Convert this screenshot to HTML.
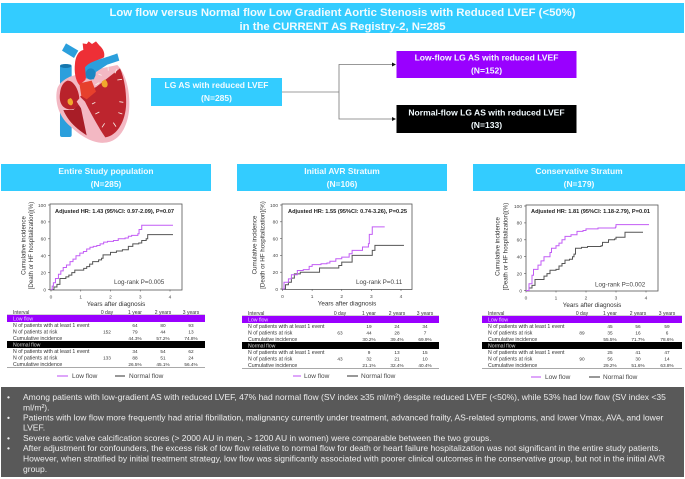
<!DOCTYPE html>
<html lang="en">
<head>
<meta charset="utf-8">
<title>Low flow versus Normal flow Low Gradient Aortic Stenosis</title>
<style>
html,body{margin:0;padding:0;background:#fff;width:685px;height:479px;overflow:hidden}
svg{display:block;font-family:"Liberation Sans",sans-serif;filter:blur(.3px)}
.ttl{font-weight:700;fill:#f2fbff;text-anchor:middle}
.ln{font-size:8.52px;fill:#ececec}
</style>
</head>
<body>
<svg id="root" width="685" height="479" viewBox="0 0 685 479" xmlns="http://www.w3.org/2000/svg">
<rect width="685" height="479" fill="#fff"/>

<rect x="1" y="3" width="683" height="30" fill="#33ccff"/>
<text x="342.5" y="15.8" class="ttl" font-size="11.35">Low flow versus Normal flow Low Gradient Aortic Stenosis with Reduced LVEF (&lt;50%)</text>
<text x="342.5" y="29.8" class="ttl" font-size="11.35">in the CURRENT AS Registry-2, N=285</text>

<g transform="translate(30,30) scale(0.3333)">
  <rect x="90" y="103" width="35" height="218" rx="6" fill="#2b9fdc"/>
  <ellipse cx="107" cy="108" rx="17" ry="6" fill="#1576ad"/>
  <path d="M96 62 L108 40 L145 62 L132 84 Z" fill="#2b9fdc"/>
  <path d="M82 175 C72 215 88 262 120 288 C155 322 195 342 225 338 C272 335 300 280 298 215 C297 165 282 125 262 105 L190 120 L120 140 C100 150 88 160 82 175 Z" fill="#f3b8c3"/>
  <path d="M90 190 C86 215 96 240 126 238 C142 236 148 225 148 205 C146 175 128 150 112 152 C98 158 92 172 90 190 Z" fill="#b9222b"/>
  <path d="M100 240 C112 270 138 296 170 316 L150 220 L130 240 Z" fill="#a81d27"/>
  <path d="M150 200 L200 170 L270 115 C286 150 290 200 288 230 C284 280 258 318 226 322 C210 300 182 250 165 215 Z" fill="#bd252e"/>
  <path d="M148 205 L222 325 L212 325 L140 215 Z" fill="#f3b8c3"/>
  <path d="M135 100 C138 72 150 62 160 60 L158 40 L170 42 L176 34 L186 42 L198 34 L208 46 C222 58 225 72 222 82 L180 100 L166 150 L148 165 C136 150 132 125 135 100 Z" fill="#ee2f36"/>
  <path d="M148 160 L185 152 L198 185 L170 208 L154 198 Z" fill="#e6402c"/>
  <path d="M165 112 C180 92 215 88 262 70 L268 92 L232 104 L198 126 L192 148 L168 145 Z" fill="#2b9fdc"/>
  <ellipse cx="182" cy="132" rx="15" ry="17" fill="#1c86c2"/>
  <path d="M225 148 C234 155 236 168 228 172 C218 174 212 164 216 154 Z" fill="#f0a92c"/>
  <path d="M122 204 C130 210 132 222 124 226 C115 226 110 216 114 208 Z" fill="#f0a92c"/>
  <path d="M234 110 L235 122 M260 118 L255 130 M205 132 L215 136 M262 150 L276 148 M196 165 L208 158 M268 215 L280 217 M186 222 L196 217 M265 248 L277 252 M196 252 L208 246 M250 278 L258 290 M216 292 L224 280" stroke="#f6f1e8" stroke-width="2.5" fill="none"/>
</g>

<path d="M282 92 H339" stroke="#bdbdbd" stroke-width="1.6" fill="none"/>
<path d="M392 64.5 H339 V119 H392" stroke="#777" stroke-width="0.8" fill="none"/>
<path d="M396 64.5 L392 62.5 V66.5 Z" fill="#111"/>
<path d="M396 119 L392 117 V121 Z" fill="#111"/>

<rect x="151" y="78" width="131" height="28" fill="#33ccff"/>
<text x="216.5" y="88" class="ttl" font-size="8.5">LG AS with reduced LVEF</text>
<text x="216.5" y="101" class="ttl" font-size="8.5">(N=285)</text>

<rect x="396.5" y="51" width="180" height="27" fill="#9900ff"/>
<text x="486.5" y="60.5" class="ttl" font-size="8.55">Low-flow LG AS with reduced LVEF</text>
<text x="486.5" y="73.5" class="ttl" font-size="8.55">(N=152)</text>

<rect x="396.5" y="105" width="180" height="28" fill="#000"/>
<text x="486.5" y="115.5" class="ttl" font-size="8.55">Normal-flow LG AS with reduced LVEF</text>
<text x="486.5" y="128" class="ttl" font-size="8.55">(N=133)</text>

<rect x="1" y="387" width="683" height="90" fill="#595959"/>
<g>
<text x="7" y="400" class="ln">•</text><text x="23" y="400" class="ln">Among patients with low-gradient AS with reduced LVEF, 47% had normal flow (SV index ≥35 ml/m²) despite reduced LVEF (&lt;50%), while 53% had low flow (SV index &lt;35</text>
<text x="23" y="410.5" class="ln">ml/m²).</text>
<text x="7" y="420.5" class="ln">•</text><text x="23" y="420.5" class="ln">Patients with low flow more frequently had atrial fibrillation, malignancy currently under treatment, advanced frailty, AS-related symptoms, and lower Vmax, AVA, and lower</text>
<text x="23" y="430.5" class="ln">LVEF.</text>
<text x="7" y="441" class="ln">•</text><text x="23" y="441" class="ln">Severe aortic valve calcification scores (&gt; 2000 AU in men, &gt; 1200 AU in women) were comparable between the two groups.</text>
<text x="7" y="451" class="ln">•</text><text x="23" y="451" class="ln">After adjustment for confounders, the excess risk of low flow relative to normal flow for death or heart failure hospitalization was not significant in the entire study patients.</text>
<text x="23" y="461.5" class="ln">However, when stratified by initial treatment strategy, low flow was significantly associated with poorer clinical outcomes in the conservative group, but not in the initial AVR</text>
<text x="23" y="472" class="ln">group.</text>
</g>
</svg>

<script>
const xTickLabels = [0, 1, 2, 3, 4];
const yTickLabels = [0, 20, 40, 60, 80, 100];
const intervalLabels = ['Interval', '0 day', '1 year', '2 years', '3 years'];

const entireLowYears = [0, .04, .08, .15, .25, .33, .41, .52, .64, .74, .84, .97, 1.09, 1.2, 1.31, 1.42, 1.54, 1.65, 1.77, 1.9, 2.1, 2.26, 2.49, 2.6, 2.71, 2.92, 2.96, 3.05, 4.1];
const entireLowValues = [0, 4, 8, 13, 18, 22, 26, 29, 33, 36, 40, 43, 45, 48, 50, 51, 52, 54, 56, 57, 58, 60, 61, 63, 64, 66, 71, 76, 76];
const entireNormalYears = [0, .1, .2, .3, .5, .6, .7, .8, 1.0, 1.1, 1.2, 1.3, 1.4, 1.55, 1.6, 1.7, 1.75, 2, 2.2, 2.4, 2.6, 2.75, 2.95, 3.05, 3.2, 3.25, 4.1];
const entireNormalValues = [0, 3, 6, 13, 15, 17, 20, 23, 23, 25, 27, 30, 33, 33, 35, 37, 41, 44, 45.5, 47, 51, 54, 55, 58, 60, 65, 65];

const initialLowYears = [0, .05, .2, .3, .45, .5, .7, .9, 1, 1.3, 1.5, 1.6, 1.8, 2, 2.2, 2.25, 2.35, 2.6, 2.7, 2.9, 2.93, 3.03, 3.45];
const initialLowValues = [0, 8, 12, 17, 17, 22, 23, 27, 29, 30, 31, 33, 36, 38, 38, 42, 46, 46, 50, 54, 65, 74, 74];
const initialNormalYears = [0, .1, .2, .3, .4, .6, 1.18, 1.25, 1.8, 1.9, 2.0, 2.3, 2.35, 3.0, 3.03, 3.12, 4.1];
const initialNormalValues = [0, 5, 8, 13, 18, 20, 20, 25, 25, 28, 32, 32, 40, 40, 46, 52, 52];

const conservativeLowYears = [0, .1, .2, .25, .4, .5, .6, .8, .85, 1, 1.1, 1.2, 1.3, 1.5, 1.7, 1.9, 2, 2.4, 2.98, 3, 4.1];
const conservativeLowValues = [0, 8, 18, 25, 30, 35, 40, 45, 50, 53, 56, 60, 64, 66, 70, 71, 73, 74, 75, 78, 78];
const conservativeNormalYears = [0, .1, .2, .3, .5, .6, .7, .8, 1, 1.1, 1.2, 1.3, 1.45, 1.55, 1.6, 1.65, 1.85, 2.05, 2.5, 2.55, 2.75, 2.95, 3, 3.25, 3.3, 3.9];
const conservativeNormalValues = [0, 3, 6, 13, 13, 17, 20, 24, 25, 29, 32, 36, 37, 40, 43, 50, 51, 52, 53, 57, 60, 61, 63, 63, 69, 69];

const entireLowEvents = ['64', '80', '93'];
const entireLowRisk = ['152', '79', '44', '13'];
const entireLowCumulative = ['44.3%', '57.2%', '74.8%'];
const entireNormalEvents = ['34', '54', '62'];
const entireNormalRisk = ['133', '88', '51', '24'];
const entireNormalCumulative = ['26.5%', '45.1%', '56.4%'];

const initialLowEvents = ['19', '24', '34'];
const initialLowRisk = ['63', '44', '28', '7'];
const initialLowCumulative = ['30.2%', '39.4%', '69.9%'];
const initialNormalEvents = ['9', '13', '15'];
const initialNormalRisk = ['43', '32', '21', '10'];
const initialNormalCumulative = ['21.1%', '32.4%', '40.4%'];

const conservativeLowEvents = ['45', '56', '59'];
const conservativeLowRisk = ['89', '35', '16', '6'];
const conservativeLowCumulative = ['55.5%', '71.7%', '78.6%'];
const conservativeNormalEvents = ['25', '41', '47'];
const conservativeNormalRisk = ['90', '56', '30', '14'];
const conservativeNormalCumulative = ['29.2%', '51.6%', '63.8%'];

const panels = [
  {key:'entire', title:'Entire Study population', n:'(N=285)', hdr:[1,211], left:50, right:182, top:204, y100:205, y0:289.5, x0:51, x4:170, ytx:[25.5,33],
   hr:'Adjusted HR: 1.43 (95%CI: 0.97-2.09), P=0.07', hrx:55, hry:213, lr:'Log-rank P=0.005', lrx:114, lry:284,
   lowT:entireLowYears, lowV:entireLowValues, normT:entireNormalYears, normV:entireNormalValues,
   tx:7, tw:198, ty:315, cols:[13,107,135,163,191],
   rows:[entireLowEvents, entireLowRisk, entireLowCumulative, entireNormalEvents, entireNormalRisk, entireNormalCumulative],
   legY:376, leg:[57,68,72,115,125,129]},
  {key:'initial', title:'Initial AVR Stratum', n:'(N=106)', hdr:[237,447], left:282, right:412, top:204, y100:205, y0:289, x0:282.5, x4:401, ytx:[256.5,264.5],
   hr:'Adjusted HR: 1.55 (95%CI: 0.74-3.26), P=0.25', hrx:288, hry:213, lr:'Log-rank P=0.11', lrx:356, lry:284,
   lowT:initialLowYears, lowV:initialLowValues, normT:initialNormalYears, normV:initialNormalValues,
   tx:242, tw:197, ty:316, cols:[248,340,369,397,425],
   rows:[initialLowEvents, initialLowRisk, initialLowCumulative, initialNormalEvents, initialNormalRisk, initialNormalCumulative],
   legY:376, leg:[293,301,304,347,358,361]},
  {key:'conservative', title:'Conservative Stratum', n:'(N=179)', hdr:[473,685], left:526, right:658, top:205, y100:206, y0:290.5, x0:526, x4:646, ytx:[499.5,507.5],
   hr:'Adjusted HR: 1.81 (95%CI: 1.18-2.79), P=0.01', hrx:531, hry:213, lr:'Log-rank P=0.002', lrx:595, lry:286.5,
   lowT:conservativeLowYears, lowV:conservativeLowValues, normT:conservativeNormalYears, normV:conservativeNormalValues,
   tx:482, tw:200, ty:316, cols:[488,582,610,638,667],
   rows:[conservativeLowEvents, conservativeLowRisk, conservativeLowCumulative, conservativeNormalEvents, conservativeNormalRisk, conservativeNormalCumulative],
   legY:377, leg:[531,541,545,589,600,603]}
];
const rowLabels = ['N of patients with at least 1 event', 'N of patients at risk', 'Cumulative incidence'];

const root = document.getElementById('root');
const NS = 'http://www.w3.org/2000/svg';
function make(tag, attrs, parent) {
  const el = document.createElementNS(NS, tag);
  for (const k in attrs) el.setAttribute(k, attrs[k]);
  (parent || root).appendChild(el);
  return el;
}
function label(parent, x, y, str, size, fill, anchor, weight) {
  const el = make('text', {x: x, y: y, 'font-size': size, fill: fill, 'text-anchor': anchor || 'start', 'font-weight': weight || 400}, parent);
  el.textContent = str;
  return el;
}
function stepPath(ts, vs, xs, ys) {
  let d = 'M' + xs(ts[0]) + ' ' + ys(vs[0]);
  for (let i = 1; i < ts.length; i++) {
    d += ' H' + xs(ts[i]) + ' V' + ys(vs[i]);
  }
  return d;
}

panels.forEach(function (p) {
  const g = make('g', {});
  
  
  const xs = function (t) { return p.x0 + (p.x4 - p.x0) * t / 4; };
  const ys = function (v) { return p.y0 + (p.y100 - p.y0) * v / 100; };

  const hdr = make('rect', {x: p.hdr[0], y: 164, width: p.hdr[1] - p.hdr[0], height: 27, fill: '#33ccff'}, g);
  
  
  const mid = (p.hdr[0] + p.hdr[1]) / 2;
  const t1 = label(g, mid, 174, p.title, 8.45, '#f2fbff', 'middle', 700);
  
  
  const t2 = label(g, mid, 187, p.n, 8.45, '#f2fbff', 'middle', 700);
  
  

  const frame = make('rect', {x: p.left, y: p.top, width: p.right - p.left, height: p.y0 - p.top + 0.5, fill: 'none', stroke: '#555', 'stroke-width': 0.8}, g);
  
  

  yTickLabels.forEach(function (v) {
    const tick = make('line', {x1: p.left - 2, x2: p.left, y1: ys(v), y2: ys(v), stroke: '#555', 'stroke-width': 0.6}, g);
    
    
    const tl = label(g, p.left - 4, ys(v) + 1.8, String(v), 4.8, '#444', 'end');
    
    
  });
  xTickLabels.forEach(function (v) {
    const tick = make('line', {x1: xs(v), x2: xs(v), y1: p.y0, y2: p.y0 + 2, stroke: '#555', 'stroke-width': 0.6}, g);
    
    
    const tl = label(g, xs(v), p.y0 + 9, String(v), 4.8, '#444', 'middle');
    
    
  });

  const xt = label(g, (p.left + p.right) / 2, p.y0 + 16.5, 'Years after diagnosis', 6.3, '#333', 'middle');
  
  
  const yc = p.y0 - 44;
  const y1 = label(g, p.ytx[0], yc, 'Cumulative incidence', 6.2, '#333', 'middle');
  y1.setAttribute('transform', 'rotate(-90 ' + p.ytx[0] + ' ' + yc + ')');
  
  
  const y2 = label(g, p.ytx[1], yc, '[Death or HF hospitalization](%)', 6.2, '#333', 'middle');
  y2.setAttribute('transform', 'rotate(-90 ' + p.ytx[1] + ' ' + yc + ')');
  
  

  const normalLine = make('path', {d: stepPath(p.normT, p.normV, xs, ys), fill: 'none', stroke: '#555', 'stroke-width': 1}, g);
  
  
  const lowLine = make('path', {d: stepPath(p.lowT, p.lowV, xs, ys), fill: 'none', stroke: '#c25cf5', 'stroke-width': 1}, g);
  
  

  const hr = label(g, p.hrx, p.hry, p.hr, 5.65, '#222', 'start', 700);
  
  
  const lr = label(g, p.lrx, p.lry, p.lr, 6.3, '#444');
  
  

  const T = p.ty;
  intervalLabels.forEach(function (h, i) {
    const c = label(g, p.cols[i], T - 1.2, h, 5, '#333', i ? 'middle' : 'start');
    
    
  });
  const rule = make('line', {x1: p.tx, x2: p.tx + p.tw, y1: T, y2: T, stroke: '#555', 'stroke-width': 0.5}, g);
  
  
  const bandLow = make('rect', {x: p.tx, y: T, width: p.tw, height: 7, fill: '#9900ff'}, g);
  
  
  const bandLowText = label(g, p.cols[0], T + 5.3, 'Low flow', 5.2, '#e8d0ff');
  
  
  const bandNorm = make('rect', {x: p.tx, y: T + 26, width: p.tw, height: 7, fill: '#000'}, g);
  
  
  const bandNormText = label(g, p.cols[0], T + 31.3, 'Normal flow', 5.2, '#ddd');
  
  

  const rowOffsets = [11.8, 18.3, 24.8, 37.8, 44.3, 50.8];
  p.rows.forEach(function (row, r) {
    const yy = T + rowOffsets[r];
    const rl = label(g, p.cols[0], yy, rowLabels[r % 3], 5.2, '#333');
    
    
    row.forEach(function (val, i) {
      const colIndex = row.length === 4 ? i + 1 : i + 2;
      const cell = label(g, p.cols[colIndex], yy, val, 4.7, '#333', 'middle');
      
      
    });
  });
  const bottom = make('line', {x1: p.tx, x2: p.tx + p.tw, y1: T + 52.5, y2: T + 52.5, stroke: '#555', 'stroke-width': 0.6}, g);
  
  

  const L = p.leg;
  const legLow = make('line', {x1: L[0], x2: L[1], y1: p.legY, y2: p.legY, stroke: '#c25cf5', 'stroke-width': 1.1}, g);
  
  
  const legLowText = label(g, L[2], p.legY + 2.2, 'Low flow', 6.5, '#444');
  
  
  const legNorm = make('line', {x1: L[3], x2: L[4], y1: p.legY, y2: p.legY, stroke: '#444', 'stroke-width': 1.1}, g);
  
  
  const legNormText = label(g, L[5], p.legY + 2.2, 'Normal flow', 6.5, '#444');
  
  
});
</script>
</body>
</html>
